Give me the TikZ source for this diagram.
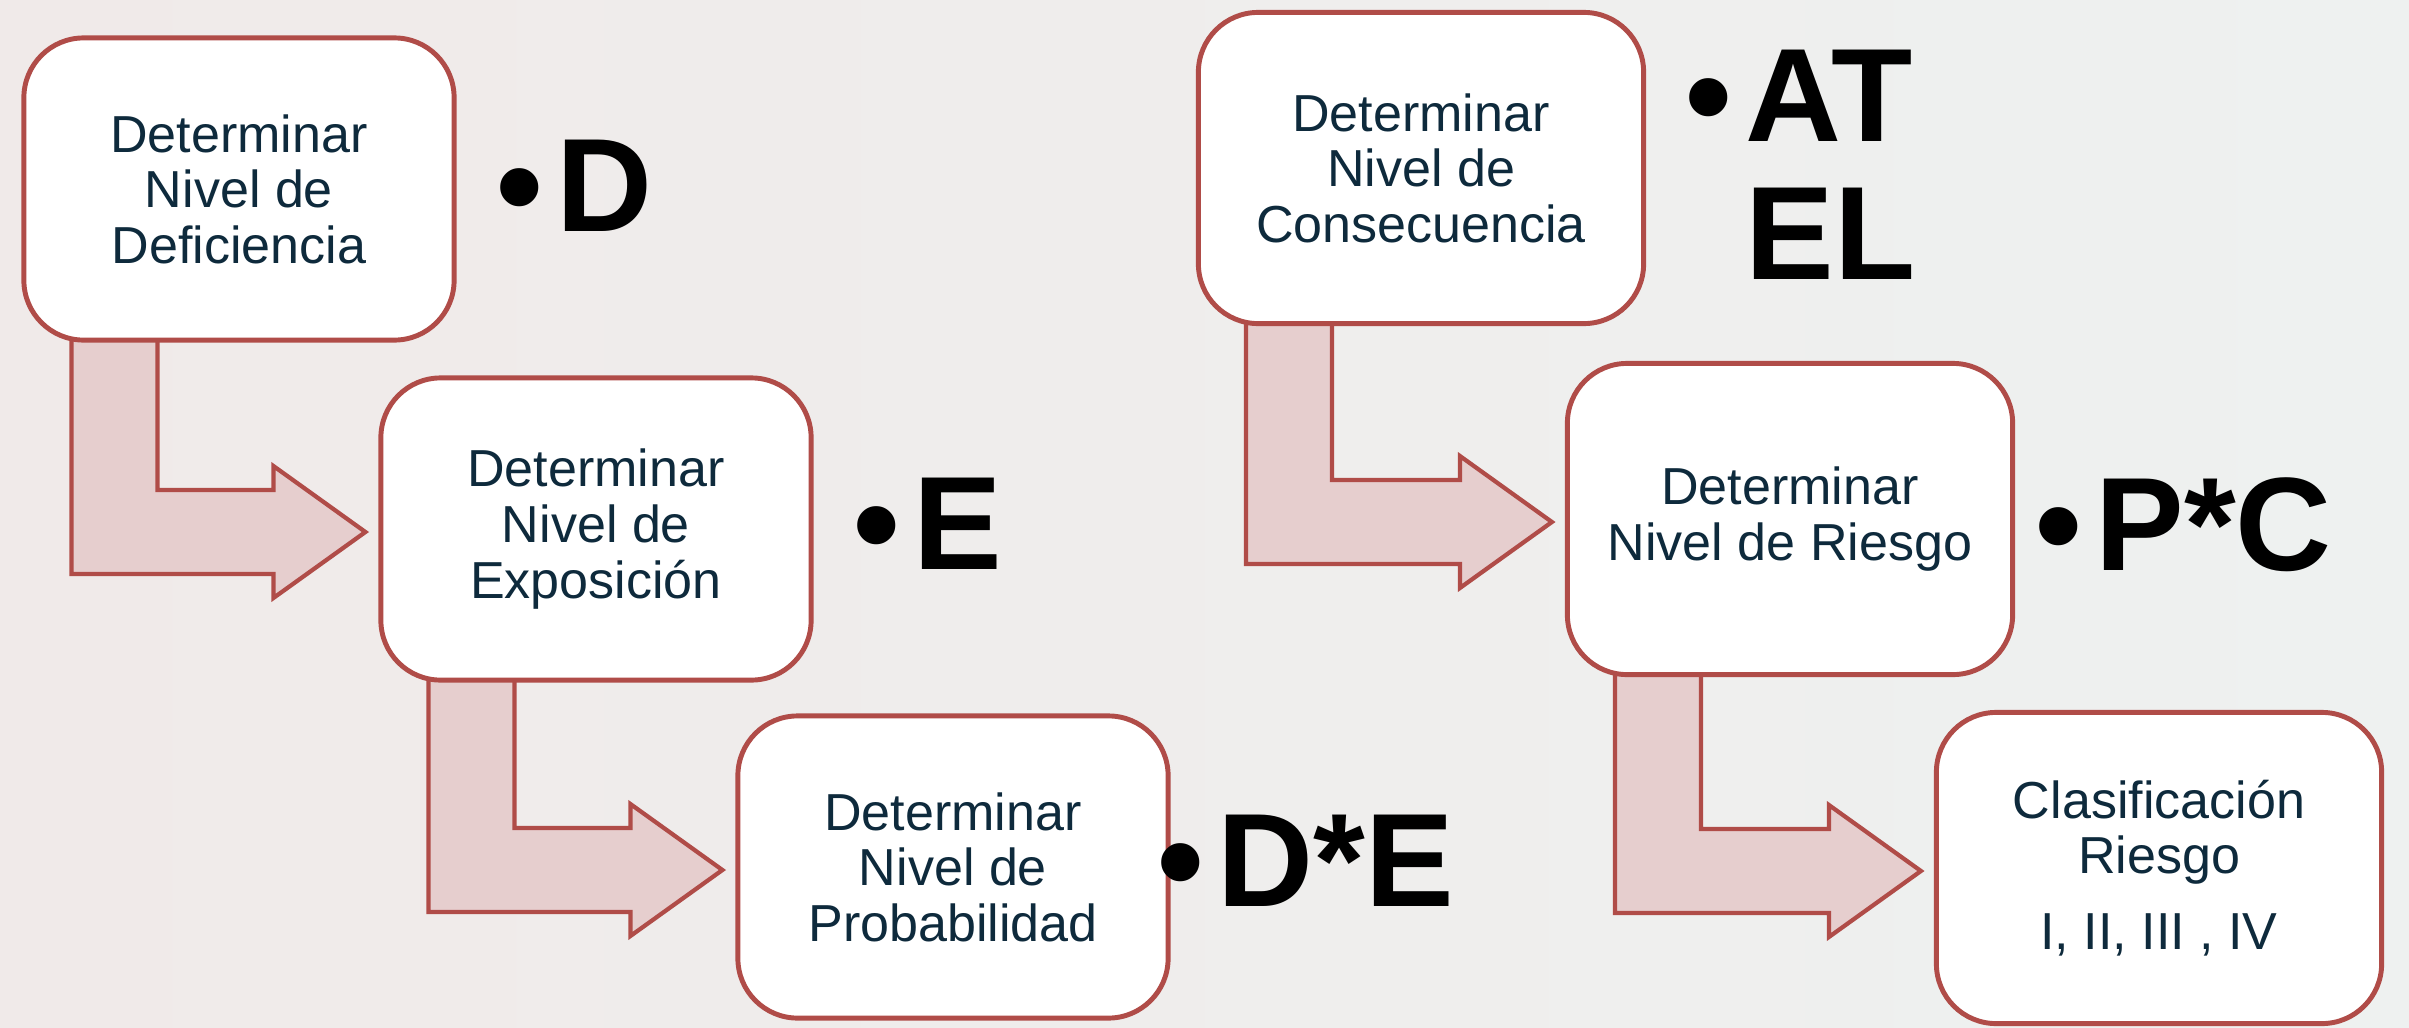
\documentclass[tikz,border=0pt]{standalone}
\usepackage{fontspec}
\setmainfont{Liberation Sans}
\usetikzlibrary{calc}
\definecolor{boxred}{HTML}{B04C48}
\definecolor{arrowpink}{HTML}{E6CECE}
\definecolor{navy}{HTML}{0E2A3C}
\definecolor{photoleft}{HTML}{F0EAE9}
\definecolor{photoright}{HTML}{EEF1F0}
\pgfdeclarelayer{backdrop}
\pgfdeclarelayer{flow}
\pgfsetlayers{backdrop,flow,main}
\tikzset{
	stepbox/.style={draw=boxred, line width=1.4pt, fill=white, rounded corners=17pt,
		minimum width=4.3cm, minimum height=3.02cm, inner sep=0pt, align=center,
		text=navy, font=\fontsize{14.8}{15.8}\selectfont},
	widebox/.style={stepbox, minimum width=4.45cm, minimum height=3.11cm},
	flowarrow/.style={draw=boxred, fill=arrowpink, line width=1.2pt},
	lbl/.style={inner sep=0pt, anchor=base west, align=left,
		font=\bfseries\fontsize{37.8}{39.3}\selectfont}
}
\begin{document}
\begin{tikzpicture}[x=0.01cm, y=-0.01cm]
	\useasboundingbox (0,0) rectangle (2409,1027);
	\begin{pgfonlayer}{backdrop}
	\shade[left color=photoleft, right color=photoright] (0,0) rectangle (2409,1027);
	\end{pgfonlayer}
	% pasos
	\node[stepbox] (def) at (239,189) {Determinar\\Nivel de\\Deficiencia};
	\node[stepbox] (exp) at (596,529) {Determinar\\Nivel de\\Exposición};
	\node[stepbox] (pro) at (953,867) {Determinar\\Nivel de\\Probabilidad};
	\node[widebox] (con) at (1421,168) {Determinar\\Nivel de\\Consecuencia};
	\node[widebox] (rie) at (1790,519) {Determinar\\Nivel de Riesgo};
	\node[widebox] (cla) at (2159,868) {Clasificación\\Riesgo\\[5.7pt]I, II, III , IV};
	% valores
	\node[lbl] (vD) at (496,231) {•\hspace{0.1em}D};
	\node[lbl] (vE) at (853,569) {•\hspace{0.1em}E};
	\node[lbl] (vDE) at (1157,906) {•\hspace{0.1em}D*E};
	\node[lbl] (vAT) at (1685,141) {•\hspace{0.1em}\begin{tabular}[t]{@{}l@{}}AT\\EL\end{tabular}};
	\node[lbl] (vPC) at (2035,570) {•\hspace{0.1em}P*C};
	% flechas
	\begin{pgfonlayer}{flow}
	\foreach \a/\b in {def/exp, exp/pro, con/rie, rie/cla}{
		\path ($(\a.south west)+(50,-12)$) coordinate (p1)
		($(\a.south west)+(136,-12)$) coordinate (p2)
		($(\b.west)+(-13,3)$) coordinate (tip)
		($(tip)+(-92,42)$) coordinate (q1)
		($(tip)+(-92,66)$) coordinate (q2)
		($(tip)+(-92,-66)$) coordinate (q3)
		($(tip)+(-92,-42)$) coordinate (q4);
		\draw[flowarrow] (p1) |- (q1) -- (q2) -- (tip) -- (q3) -- (q4) -| (p2) -- cycle;
	}
	\end{pgfonlayer}
\end{tikzpicture}
\end{document}
